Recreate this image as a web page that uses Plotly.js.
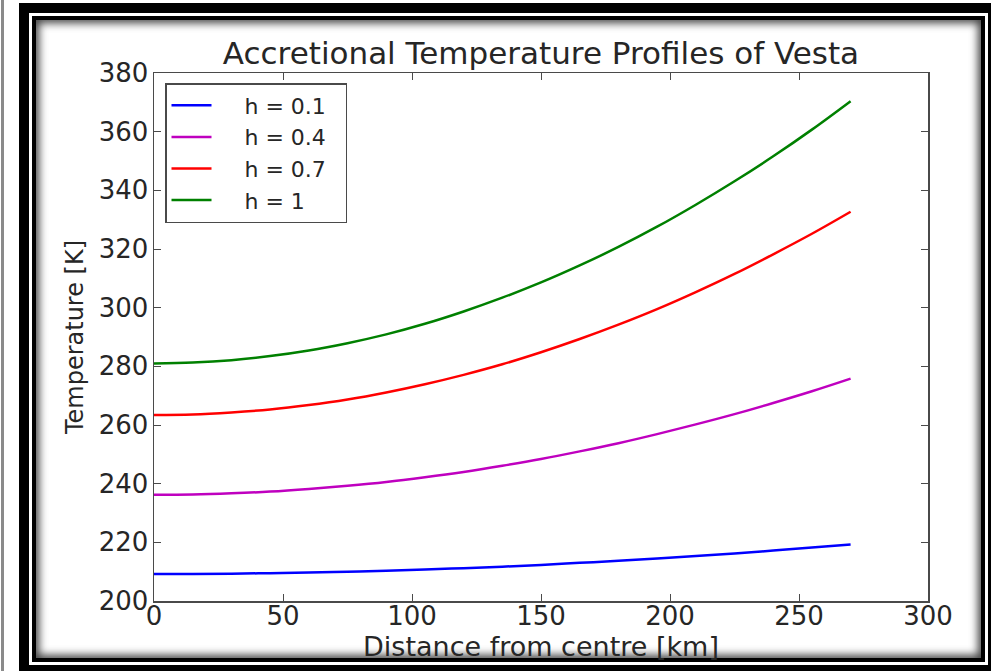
<!DOCTYPE html>
<html>
<head>
<meta charset="utf-8">
<script src="https://cdn.plot.ly/plotly-3.0.1.min.js"></script>
<style>
  html, body { margin: 0; padding: 0; background: #ffffff; overflow: hidden; }
  body { width: 991px; height: 671px; position: relative; }
  #edge { position: absolute; left: 1px; top: 0; width: 3px; height: 671px; background: #8a8a8a; }
  #outer { position: absolute; left: 19px; top: 3px; width: 959px; height: 652px;
           border: 10px solid #000; background: #fff; }
  #inner { position: absolute; left: 3px; top: 3px; right: 3px; bottom: 3px;
           border: 4px solid #000; background: #fff;
           box-shadow: inset 0 0 8px 3px rgba(0,0,0,0.75); }
  #chart { position: absolute; left: 0; top: 0; width: 991px; height: 671px; }
</style>
</head>
<body>
<div id="edge"></div>
<div id="outer"><div id="inner"></div></div>
<div id="chart"></div>
<script>
// Distance from the centre of Vesta (km)
const distanceKm = [0, 15, 30, 45, 60, 75, 90, 105, 120, 135, 150, 165, 180, 195, 210, 225, 240, 255, 270];

// Accretional temperature (K) for each value of h
const tempH01 = [209.2, 209.2, 209.3, 209.5, 209.7, 210.0, 210.3, 210.7, 211.2, 211.7, 212.3, 213.0, 213.7, 214.5, 215.3, 216.2, 217.2, 218.2, 219.3];
const tempH04 = [236.2, 236.3, 236.7, 237.3, 238.2, 239.3, 240.6, 242.2, 244.0, 246.1, 248.4, 251.0, 253.8, 256.9, 260.2, 263.7, 267.5, 271.5, 275.8];
const tempH07 = [263.4, 263.6, 264.3, 265.3, 266.8, 268.7, 271.1, 273.9, 277.1, 280.7, 284.8, 289.3, 294.2, 299.5, 305.3, 311.5, 318.2, 325.2, 332.7];
const tempH10 = [281.0, 281.3, 282.1, 283.5, 285.4, 287.9, 290.9, 294.5, 298.7, 303.4, 308.6, 314.4, 320.7, 327.6, 335.1, 343.1, 351.6, 360.7, 370.4];

const seriesNames = ['h = 0.1', 'h = 0.4', 'h = 0.7', 'h = 1'];
const seriesColors = ['#0000ff', '#bf00bf', '#ff0000', '#008000'];
const seriesValues = [tempH01, tempH04, tempH07, tempH10];

const xTicks = [0, 50, 100, 150, 200, 250, 300];
const yTicks = [200, 220, 240, 260, 280, 300, 320, 340, 360, 380];

const FONT = 'DejaVu Sans, sans-serif';
const INK = '#262626';
const FRAME = '#4a4a4a';
// padding around legend labels: gap after the sample line, and room at the right edge
const LEGEND_LEAD = '\u00a0\u00a0\u00a0\u00a0';
const LEGEND_TAIL = '\u00a0\u00a0';

const traces = seriesValues.map((vals, i) => ({
  type: 'scatter',
  mode: 'lines',
  x: distanceKm,
  y: vals,
  name: LEGEND_LEAD + seriesNames[i] + LEGEND_TAIL,
  line: { color: seriesColors[i], width: 2.5, shape: 'spline' },
  hoverinfo: 'skip'
}));

const axisCommon = {
  showgrid: false,
  zeroline: false,
  showline: true,
  linecolor: FRAME,
  linewidth: 1.5,
  mirror: 'ticks',
  ticks: 'inside',
  ticklen: 7,
  tickwidth: 1,
  tickcolor: FRAME,
  tickfont: { family: FONT, size: 26, color: INK }
};

const layout = {
  width: 991,
  height: 671,
  paper_bgcolor: 'rgba(0,0,0,0)',
  plot_bgcolor: '#ffffff',
  margin: { l: 154, r: 63, t: 73, b: 70 },
  showlegend: true,
  title: {
    text: 'Accretional Temperature Profiles of Vesta',
    font: { family: FONT, size: 31, color: INK },
    xref: 'paper', x: 0.5, xanchor: 'center',
    yref: 'container', y: 1 - 53 / 671, yanchor: 'middle'
  },
  xaxis: Object.assign({}, axisCommon, {
    range: [0, 300],
    tickvals: xTicks,
    ticktext: xTicks.map(String),
    ticklabelstandoff: -9,
    title: { text: 'Distance from centre [km]', font: { family: FONT, size: 27, color: INK }, standoff: 0 }
  }),
  yaxis: Object.assign({}, axisCommon, {
    range: [200, 380],
    tickvals: yTicks,
    ticktext: yTicks.map(String),
    ticklabelstandoff: -1,
    title: { text: 'Temperature [K]', font: { family: FONT, size: 24, color: INK }, standoff: 8 }
  }),
  legend: {
    x: (165 - 154) / 774, xanchor: 'left',
    y: (601 - 83) / 528, yanchor: 'top',
    bgcolor: '#ffffff',
    bordercolor: FRAME,
    borderwidth: 1.5,
    font: { family: FONT, size: 22, color: INK },
    itemwidth: 40,
    tracegroupgap: 0
  }
};

Plotly.newPlot('chart', traces, layout, { displayModeBar: false, staticPlot: true });
</script>
</body>
</html>
